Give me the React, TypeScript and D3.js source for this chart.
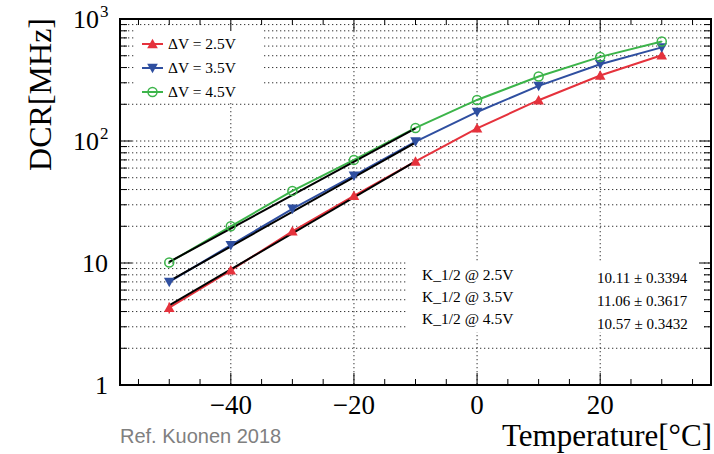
import * as d3 from "d3";

// measured temperatures and dark count rates
const temps = [-50, -40, -30, -20, -10, 0, 10, 20, 30];
const dcr25 = [4.3, 8.7, 18.2, 35.5, 68, 127, 216, 344, 505];
const dcr35 = [7.0, 14, 27.8, 52, 99, 173, 283, 426, 585];
const dcr45 = [10.1, 20, 39, 70, 128, 217, 338, 489, 655];
const err25 = [0.45, 0.5, 0.6, 0.8, 1.2, 1.5, 2, 3, 4];
const err35 = [0.4, 0.5, 0.6, 0.8, 1.2, 1.5, 2, 3, 4];
const err45 = [0.3, 0.4, 0.5, 0.8, 1.2, 1.5, 2, 3, 4];

// exponential fits, drawn between the endpoints
const fitTemps = [-50, -10];
const fit25 = [4.5, 68];
const fit35 = [7.1, 97];
const fit45 = [10.2, 127];

const legendLabels = ["ΔV = 2.5V", "ΔV = 3.5V", "ΔV = 4.5V"];
const fitLabels = ["K_1/2 @ 2.5V", "K_1/2 @ 3.5V", "K_1/2 @ 4.5V"];
const fitValues = ["10.11 ± 0.3394", "11.06 ± 0.3617", "10.57 ± 0.3432"];
const xMajor = [-40, -20, 0, 20];

const W = 714;
const H = 454;
const frame = { left: 120, right: 711, top: 19, bottom: 385 };
const serif = "'Liberation Serif', 'Times New Roman', serif";

const colors = ["#e5323c", "#2f4fa0", "#3cb44a"];

function Marker({ kind, x, y, color }) {
	if (kind === "circle") {
		return <circle cx={x} cy={y} r={4.5} fill="none" stroke={color} strokeWidth={1.5} />;
	}
	const s = 5.3;
	const pts =
		kind === "up"
			? [[x - s, y + s * 0.8], [x + s, y + s * 0.8], [x, y - s]]
			: [[x - s, y - s * 0.8], [x + s, y - s * 0.8], [x, y + s]];
	return <polygon points={pts.map((p) => p.join(",")).join(" ")} fill={color} />;
}

export default function App() {
	const x = d3.scaleLinear().domain([-58, 38]).range([frame.left, frame.right]);
	const y = d3.scaleLog().domain([1, 1000]).range([frame.bottom, frame.top]);

	const series = [
		{ vals: dcr25, errs: err25, fit: fit25, kind: "up" },
		{ vals: dcr35, errs: err35, fit: fit35, kind: "down" },
		{ vals: dcr45, errs: err45, fit: fit45, kind: "circle" },
	];

	const line = d3
		.line<[number, number]>()
		.x((d) => x(d[0]))
		.y((d) => y(d[1]));

	// log ticks
	const yTicks = [];
	[1, 10, 100].forEach((dec) => {
		for (let k = 1; k <= 9; k++) yTicks.push({ v: k * dec, major: k === 1 });
	});
	yTicks.push({ v: 1000, major: true });

	const xTicks = d3.range(-55, 38, 5).map((v) => ({ v, major: v % 20 === 0 }));

	const gridStyle = { stroke: "#333", strokeWidth: 1, strokeDasharray: "1.3 2.7" };

	return (
		<svg
			width={W}
			height={H}
			style={{ position: "absolute", left: 0, top: 0, background: "#fff" }}
		>
			<rect x={0} y={0} width={W} height={H} fill="#fff" />

			{/* grid */}
			{yTicks
				.filter((t) => t.v > 1 && t.v < 1000)
				.map((t, i) => (
					<line key={"gy" + i} x1={frame.left} x2={frame.right} y1={y(t.v)} y2={y(t.v)} {...gridStyle} />
				))}
			{xMajor.map((v) => (
				<line key={"gx" + v} x1={x(v)} x2={x(v)} y1={frame.top} y2={frame.bottom} {...gridStyle} />
			))}

			{/* legend and fit result boxes hide the grid */}
			<rect x={136} y={27} width={126} height={74} fill="#fff" />
			<rect x={408} y={262} width={295} height={70} fill="#fff" />

			{/* data lines */}
			{series.map((s, i) => (
				<path
					key={"l" + i}
					d={line(temps.map((t, j) => [t, s.vals[j]]))}
					fill="none"
					stroke={colors[i]}
					strokeWidth={2}
				/>
			))}
			{/* error bars */}
			{series.map((s, i) =>
				temps.map((t, j) => (
					<line
						key={"e" + i + "-" + j}
						x1={x(t)}
						x2={x(t)}
						y1={y(s.vals[j] - s.errs[j])}
						y2={y(s.vals[j] + s.errs[j])}
						stroke={colors[i]}
						strokeWidth={1.5}
					/>
				)),
			)}
			{/* fits */}
			{series.map((s, i) => (
				<path
					key={"f" + i}
					d={line(fitTemps.map((t, j) => [t, s.fit[j]]))}
					fill="none"
					stroke="#000"
					strokeWidth={2}
				/>
			))}
			{/* markers */}
			{series.map((s, i) =>
				temps.map((t, j) => (
					<Marker key={"m" + i + "-" + j} kind={s.kind} x={x(t)} y={y(s.vals[j])} color={colors[i]} />
				)),
			)}

			{/* legend */}
			{series.map((s, i) => {
				const ly = 44 + i * 24;
				return (
					<g key={"lg" + i}>
						<line x1={142} x2={163} y1={ly} y2={ly} stroke={colors[i]} strokeWidth={2} />
						<Marker kind={s.kind} x={152.5} y={ly} color={colors[i]} />
						<text x={168} y={ly + 5} fontFamily={serif} fontSize={15.5}>
							{legendLabels[i]}
						</text>
					</g>
				);
			})}

			{/* fit results */}
			{fitLabels.map((l, i) => (
				<text key={"fl" + i} x={422} y={280 + i * 22} fontFamily={serif} fontSize={15.5}>
					{l}
				</text>
			))}
			{fitValues.map((l, i) => (
				<text key={"fv" + i} x={597} y={283 + i * 23} fontFamily={serif} fontSize={15}>
					{l}
				</text>
			))}

			{/* frame */}
			<rect
				x={frame.left}
				y={frame.top}
				width={frame.right - frame.left}
				height={frame.bottom - frame.top}
				fill="none"
				stroke="#000"
				strokeWidth={2}
			/>

			{/* x ticks, bottom and top */}
			{xTicks.map((t) => {
				const len = t.major ? 12 : 6;
				return (
					<g key={"xt" + t.v}>
						<line x1={x(t.v)} x2={x(t.v)} y1={frame.bottom} y2={frame.bottom - len} stroke="#000" strokeWidth={1} />
						<line x1={x(t.v)} x2={x(t.v)} y1={frame.top} y2={frame.top + len} stroke="#000" strokeWidth={1} />
					</g>
				);
			})}
			{/* y ticks, left and right */}
			{yTicks.map((t, i) => {
				const len = t.major ? 12 : 7;
				return (
					<g key={"yt" + i}>
						<line x1={frame.left} x2={frame.left + len} y1={y(t.v)} y2={y(t.v)} stroke="#000" strokeWidth={1} />
						<line x1={frame.right} x2={frame.right - len} y1={y(t.v)} y2={y(t.v)} stroke="#000" strokeWidth={1} />
					</g>
				);
			})}

			{/* x tick labels */}
			{xMajor.map((v) => (
				<text key={"xl" + v} x={x(v)} y={414} textAnchor="middle" fontFamily={serif} fontSize={27}>
					{v < 0 ? "\u2212" + Math.abs(v) : String(v)}
				</text>
			))}

			{/* y tick labels */}
			<text x={108} y={y(1) + 9} textAnchor="end" fontFamily={serif} fontSize={26}>1</text>
			<text x={108} y={y(10) + 9} textAnchor="end" fontFamily={serif} fontSize={26}>10</text>
			<text x={99} y={y(100) + 9} textAnchor="end" fontFamily={serif} fontSize={26}>10</text>
			<text x={100} y={y(100) - 2} fontFamily={serif} fontSize={17}>2</text>
			<text x={99} y={y(1000) + 9} textAnchor="end" fontFamily={serif} fontSize={26}>10</text>
			<text x={100} y={y(1000) - 2} fontFamily={serif} fontSize={17}>3</text>

			{/* axis titles */}
			<text
				transform="translate(51,18) rotate(-90)"
				textAnchor="end"
				fontFamily={serif}
				fontSize={32}
			>
				DCR[MHz]
			</text>
			<text x={712} y={446} textAnchor="end" fontFamily={serif} fontSize={31}>
				Temperature[°C]
			</text>

			<text x={120} y={443} fontFamily="'Liberation Sans', Arial, sans-serif" fontSize={20} fill="#808080">
				Ref. Kuonen 2018
			</text>
		</svg>
	);
}
